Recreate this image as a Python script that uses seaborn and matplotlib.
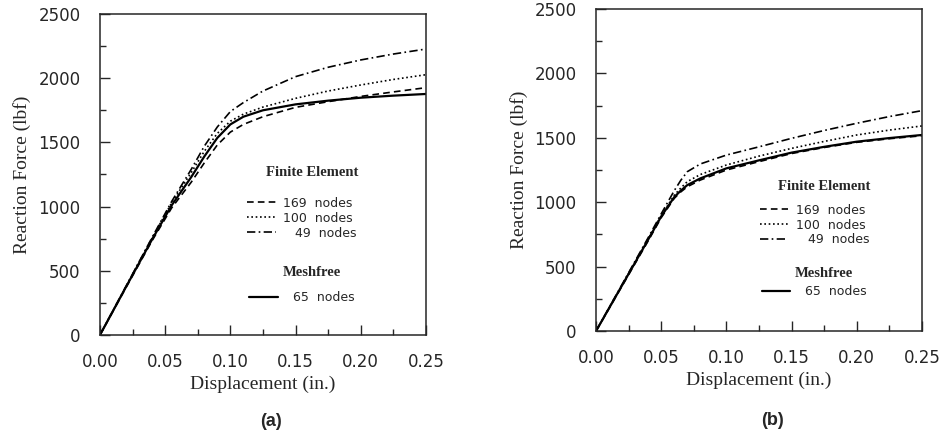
import pandas as pd
import seaborn as sns
import matplotlib.pyplot as plt

# panel (a)
disp_a = [0, 0.02, 0.04, 0.055, 0.07, 0.08, 0.09, 0.10, 0.11, 0.125, 0.15, 0.175, 0.20, 0.225, 0.25]
force_a_169 = [0, 370, 735, 990, 1190, 1340, 1480, 1580, 1640, 1700, 1773, 1817, 1858, 1893, 1926]
force_a_100 = [0, 378, 755, 1030, 1265, 1430, 1570, 1665, 1720, 1775, 1843, 1900, 1947, 1990, 2027]
force_a_49 = [0, 380, 760, 1040, 1290, 1470, 1620, 1740, 1810, 1900, 2012, 2085, 2142, 2188, 2227]
force_a_mf = [0, 375, 745, 1010, 1230, 1390, 1535, 1640, 1700, 1750, 1796, 1825, 1848, 1864, 1877]

# panel (b)
disp_b = [0, 0.02, 0.04, 0.05, 0.06, 0.065, 0.07, 0.08, 0.10, 0.125, 0.15, 0.175, 0.20, 0.225, 0.25]
force_b_169 = [0, 350, 700, 880, 1030, 1080, 1120, 1172, 1250, 1315, 1378, 1425, 1465, 1493, 1516]
force_b_100 = [0, 358, 715, 895, 1055, 1110, 1160, 1215, 1289, 1358, 1418, 1472, 1522, 1560, 1592]
force_b_49 = [0, 362, 725, 910, 1090, 1170, 1237, 1297, 1366, 1430, 1496, 1557, 1613, 1665, 1711]
force_b_mf = [0, 355, 710, 890, 1040, 1090, 1133, 1185, 1263, 1325, 1385, 1430, 1470, 1498, 1522]

fe_labels = ['169  nodes', '100  nodes', '\u2007 49  nodes']
mf_label = '65  nodes'
x_ticks = [0.00, 0.05, 0.10, 0.15, 0.20, 0.25]
y_ticks = [0, 500, 1000, 1500, 2000, 2500]

sns.set_style("ticks")
plt.rcParams['font.family'] = ['DejaVu Sans']

fig = plt.figure(figsize=(9.44, 4.41), dpi=100)
ax_a = fig.add_axes([0.1059, 0.2404, 0.3453, 0.7279])
ax_b = fig.add_axes([0.6314, 0.2494, 0.3453, 0.7302])

styles = [(4, 2.5), (1, 1.6), (5, 2, 1, 2)]


def draw(ax, disp, fe_series, mf, leg_x, fe_title_y, fe_leg_y, mf_title_y, mf_leg_y, tag, tag_x, tag_y):
    fe_handles = []
    for vals, lab, dash in zip(fe_series, fe_labels, styles):
        df = pd.DataFrame({'d': disp, 'f': vals})
        sns.lineplot(data=df, x='d', y='f', ax=ax, color='black', lw=1.2, label=lab)
        ln = ax.lines[-1]
        ln.set_dashes(dash)
        fe_handles.append(ln)
    df = pd.DataFrame({'d': disp, 'f': mf})
    sns.lineplot(data=df, x='d', y='f', ax=ax, color='black', lw=1.6, label=mf_label)
    mf_handle = ax.lines[-1]

    ax.set_xlim(0, 0.25)
    ax.set_ylim(0, 2500)
    ax.set_xticks(x_ticks)
    ax.set_xticklabels(['%.2f' % t for t in x_ticks])
    ax.set_yticks(y_ticks)
    ax.set_xticks([0.025, 0.075, 0.125, 0.175, 0.225], minor=True)
    ax.set_yticks([250, 750, 1250, 1750, 2250], minor=True)
    ax.tick_params(direction='in', labelsize=12, length=7, width=1)
    ax.tick_params(axis='x', pad=13)
    ax.tick_params(axis='y', pad=14)
    ax.tick_params(which='minor', direction='in', length=4, width=1)
    for s in ax.spines.values():
        s.set_linewidth(1.1)
        s.set_visible(True)
    ax.set_xlabel('Displacement (in.)', family='Liberation Serif', fontsize=14, labelpad=3)
    ax.set_ylabel('Reaction Force (lbf)', family='Liberation Serif', fontsize=14, labelpad=5)

    ax.text(leg_x, fe_title_y, 'Finite Element', transform=ax.transAxes, ha='center',
            va='center', family='Liberation Serif', fontweight='bold', fontsize=10.5)
    ax.text(leg_x, mf_title_y, 'Meshfree', transform=ax.transAxes, ha='center',
            va='center', family='Liberation Serif', fontweight='bold', fontsize=10.5)
    leg1 = ax.legend(handles=fe_handles, labels=fe_labels, loc='upper center',
                     bbox_to_anchor=(leg_x - 0.03, fe_leg_y), frameon=False, fontsize=9,
                     handlelength=2.3, handletextpad=0.6, labelspacing=0.15, borderpad=0)
    ax.add_artist(leg1)
    ax.legend(handles=[mf_handle], labels=[mf_label], loc='upper center',
              bbox_to_anchor=(leg_x - 0.03, mf_leg_y), frameon=False, fontsize=9,
              handlelength=2.3, handletextpad=1.2, borderpad=0)
    ax.text(tag_x, tag_y, tag, transform=ax.transAxes, ha='center', va='center',
            family='Liberation Sans', fontweight='bold', fontsize=13)


draw(ax_a, disp_a, [force_a_169, force_a_100, force_a_49], force_a_mf,
     0.65, 0.505, 0.45, 0.195, 0.155, '(a)', 0.525, -0.268)
draw(ax_b, disp_b, [force_b_169, force_b_100, force_b_49], force_b_mf,
     0.70, 0.448, 0.415, 0.18, 0.162, '(b)', 0.54, -0.279)

fig.savefig('out.png', dpi=100)
